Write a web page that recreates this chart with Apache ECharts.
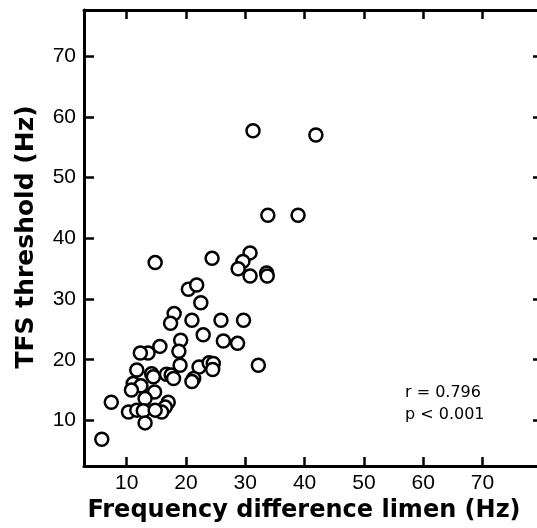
<!DOCTYPE html>
<html>
<head>
<meta charset="utf-8">
<script src="https://cdn.jsdelivr.net/npm/echarts@6/dist/echarts.min.js"></script>
<style>
html,body{margin:0;padding:0;background:#fff;}
#chart{width:537px;height:528px;}
</style>
</head>
<body>
<div id="chart"></div>
<script>
// Frequency difference limen (Hz)
var fdl = [31.3, 41.9, 33.8, 38.9, 14.8, 24.4, 30.8, 29.6, 28.8, 30.8, 33.6, 33.7,
  20.4, 21.8, 22.5, 18.0, 17.4, 21.0, 25.9, 29.7, 22.9, 19.1, 26.3, 28.7,
  15.6, 18.8, 13.6, 12.3, 19.0, 22.2, 23.9, 24.6, 24.5, 32.2, 21.3, 21.0,
  11.7, 14.2, 14.5, 16.7, 17.5, 17.9, 11.1, 12.4, 10.8, 14.7, 13.1, 7.4,
  17.0, 16.5, 15.9, 10.3, 11.7, 12.8, 13.1, 5.8, 14.8];
// TFS threshold (Hz)
var tfs = [57.7, 57.0, 43.8, 43.8, 36.0, 36.7, 37.6, 36.2, 35.0, 33.8, 34.3, 33.8,
  31.6, 32.3, 29.4, 27.6, 26.0, 26.5, 26.5, 26.5, 24.1, 23.2, 23.1, 22.7,
  22.2, 21.4, 21.1, 21.1, 19.1, 18.8, 19.5, 19.4, 18.4, 19.1, 16.9, 16.4,
  18.3, 17.7, 17.2, 17.6, 17.5, 16.9, 16.1, 15.7, 15.0, 14.7, 13.6, 13.0,
  13.0, 12.2, 11.4, 11.4, 11.7, 11.6, 9.6, 6.9, 11.7];
var xTicks = [10, 20, 30, 40, 50, 60, 70];
var yTicks = [10, 20, 30, 40, 50, 60, 70];
var xTitle = 'Frequency difference limen (Hz)';
var yTitle = 'TFS threshold (Hz)';
var statR = 'r = 0.796';
var statP = 'p < 0.001';

var pts = fdl.map(function (v, i) { return [v, tfs[i]]; });
var FONT = 'Liberation Sans';
var lineStyle = { color: '#000', width: 3 };
var tickStyle = { color: '#000', width: 2.5 };

function xAxisDef(pos, labels) {
  return {
    type: 'value', position: pos, min: 2.8, max: 80.2,
    splitLine: { show: false },
    axisLine: { show: true, onZero: false, lineStyle: lineStyle },
    axisTick: { show: true, inside: true, length: 9, lineStyle: tickStyle, customValues: xTicks },
    axisLabel: { show: labels, customValues: xTicks, color: '#000', fontFamily: FONT, fontSize: 21, margin: 7 }
  };
}
function yAxisDef(pos, labels) {
  return {
    type: 'value', position: pos, min: 2.5, max: 77.6,
    splitLine: { show: false },
    axisLine: { show: true, onZero: false, lineStyle: lineStyle },
    axisTick: { show: true, inside: true, length: 10, lineStyle: tickStyle, customValues: yTicks },
    axisLabel: { show: labels, customValues: yTicks, color: '#000', fontFamily: FONT, fontSize: 21, margin: 8 }
  };
}

var chart = echarts.init(document.getElementById('chart'), null, { renderer: 'canvas' });
chart.setOption({
  animation: false,
  backgroundColor: '#fff',
  grid: { left: 84, top: 10, right: -6, bottom: 62, containLabel: false, outerBoundsMode: 'none' },
  xAxis: [xAxisDef('bottom', true), xAxisDef('top', false)],
  yAxis: [yAxisDef('left', true), yAxisDef('right', false)],
  series: [{
    type: 'scatter', xAxisIndex: 0, yAxisIndex: 0,
    data: pts, symbol: 'circle', symbolSize: 13,
    itemStyle: { color: '#fff', borderColor: '#000', borderWidth: 2.5, opacity: 1 }
  }],
  graphic: [
    { type: 'text', x: 304, y: 511, style: { text: xTitle, font: 'bold 24px "DejaVu Sans"', fill: '#000', align: 'center', verticalAlign: 'middle' } },
    { type: 'text', x: 26, y: 237, rotation: Math.PI / 2, style: { text: yTitle, font: 'bold 25px "DejaVu Sans"', fill: '#000', align: 'center', verticalAlign: 'middle' } },
    { type: 'text', x: 405, y: 393, style: { text: statR, font: '16px "DejaVu Sans"', fill: '#000', align: 'left', verticalAlign: 'middle' } },
    { type: 'text', x: 405, y: 415, style: { text: statP, font: '16px "DejaVu Sans"', fill: '#000', align: 'left', verticalAlign: 'middle' } }
  ]
});
</script>
</body>
</html>
